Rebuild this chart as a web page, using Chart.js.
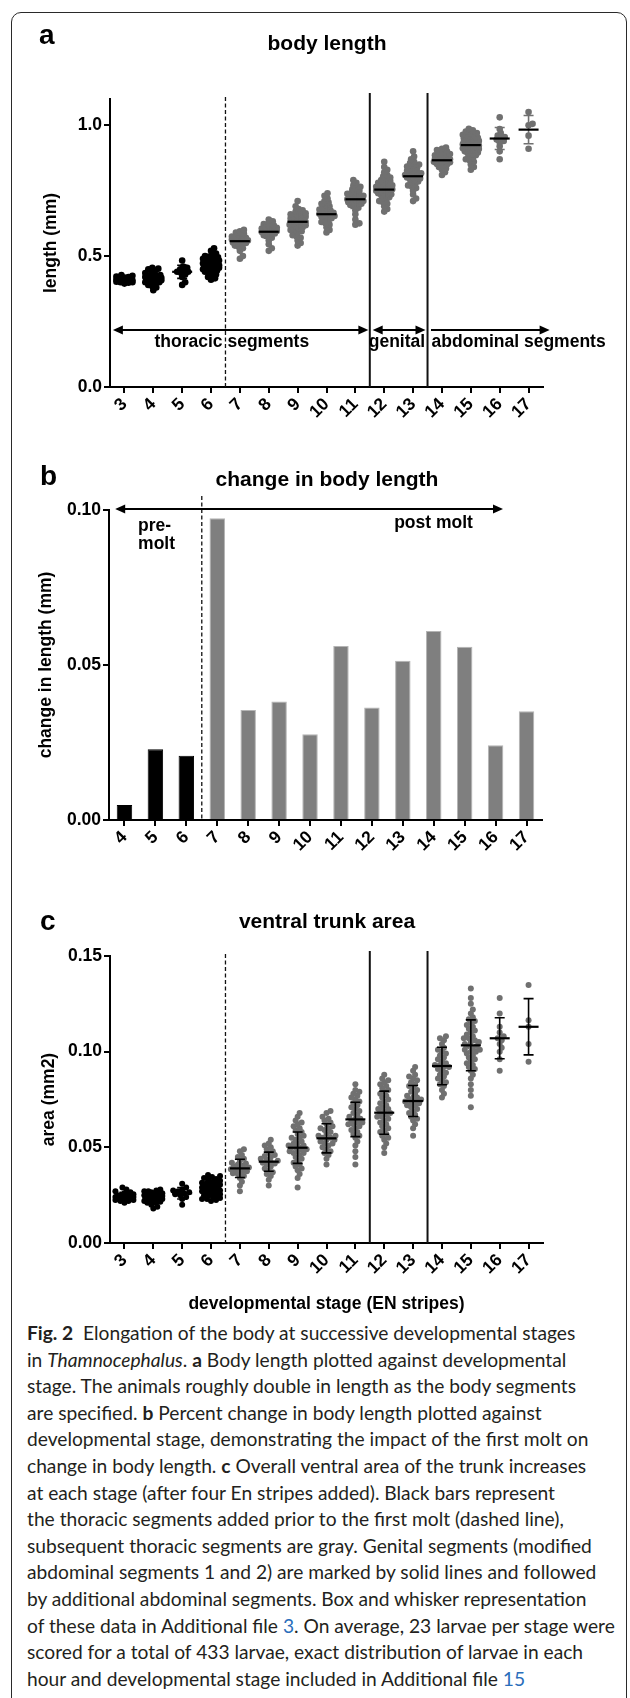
<!DOCTYPE html>
<html>
<head>
<meta charset="utf-8">
<script src="https://cdn.jsdelivr.net/npm/chart.js@4.4.1/dist/chart.umd.min.js"></script>
<style>
  body { margin: 0; background: #fff; width: 630px; height: 1698px; position: relative; overflow: hidden; }
  #card { position: absolute; left: 11px; top: 12px; width: 614px; height: 1760px; border: 1.5px solid #2a2a2a; border-radius: 10px; }
  canvas { position: absolute; left: 0; }
  #caption { position: absolute; left: 27px; top: 1320px; font-family: Lato, "Open Sans", sans-serif; font-size: 19.2px;
             line-height: 26.6px; color: #231f20; white-space: nowrap; }
  #caption a { color: #2a6ebb; text-decoration: none; }
</style>
</head>
<body>
<div id="card"></div>
<canvas id="panelA" width="630" height="430" style="top:0px"></canvas>
<canvas id="panelB" width="630" height="440" style="top:430px"></canvas>
<canvas id="panelC" width="630" height="445" style="top:870px"></canvas>
<div id="caption">
<b>Fig. 2</b>&nbsp; Elongation of the body at successive developmental stages<br>
in <i>Thamnocephalus</i>. <b>a</b> Body length plotted against developmental<br>
stage. The animals roughly double in length as the body segments<br>
are specified. <b>b</b> Percent change in body length plotted against<br>
developmental stage, demonstrating the impact of the first molt on<br>
change in body length. <b>c</b> Overall ventral area of the trunk increases<br>
at each stage (after four En stripes added). Black bars represent<br>
the thoracic segments added prior to the first molt (dashed line),<br>
subsequent thoracic segments are gray. Genital segments (modified<br>
abdominal segments 1 and 2) are marked by solid lines and followed<br>
by additional abdominal segments. Box and whisker representation<br>
of these data in Additional file <a>3</a>. On average, 23 larvae per stage were<br>
scored for a total of 433 larvae, exact distribution of larvae in each<br>
hour and developmental stage included in Additional file <a>15</a>
</div>

<script>
// ---- data ----
const stages = [3, 4, 5, 6, 7, 8, 9, 10, 11, 12, 13, 14, 15, 16, 17];

// body length (mm), one list per stage
const lengthByStage = [
  [0.395,0.398,0.400,0.400,0.402,0.404,0.405,0.406,0.407,0.408,0.408,0.409,0.410,0.410,0.411,0.412,0.413,0.414,0.415,0.416,0.418,0.420,0.422,0.425,0.428],
  [0.370,0.380,0.385,0.390,0.395,0.398,0.400,0.400,0.402,0.405,0.407,0.408,0.410,0.410,0.412,0.414,0.415,0.417,0.420,0.420,0.423,0.425,0.428,0.430,0.435,0.440,0.445,0.450,0.452,0.455],
  [0.390,0.400,0.420,0.430,0.435,0.440,0.440,0.445,0.450,0.455,0.460,0.483],
  [0.410,0.415,0.420,0.425,0.430,0.435,0.440,0.440,0.445,0.450,0.450,0.452,0.455,0.458,0.460,0.460,0.462,0.465,0.465,0.468,0.470,0.470,0.472,0.475,0.478,0.480,0.480,0.483,0.485,0.488,0.490,0.490,0.493,0.495,0.498,0.500,0.505,0.510,0.520,0.530],
  [0.490,0.500,0.520,0.530,0.535,0.540,0.545,0.548,0.550,0.552,0.555,0.557,0.560,0.560,0.563,0.565,0.568,0.570,0.573,0.575,0.580,0.585,0.590,0.595,0.600],
  [0.520,0.530,0.545,0.560,0.570,0.575,0.580,0.583,0.586,0.590,0.592,0.594,0.596,0.598,0.600,0.602,0.605,0.608,0.610,0.614,0.618,0.622,0.627,0.633,0.640],
  [0.540,0.550,0.560,0.570,0.575,0.580,0.590,0.595,0.600,0.600,0.605,0.610,0.612,0.615,0.618,0.620,0.622,0.625,0.627,0.630,0.630,0.632,0.635,0.637,0.640,0.642,0.645,0.647,0.650,0.652,0.655,0.658,0.660,0.663,0.667,0.670,0.675,0.680,0.690,0.710],
  [0.590,0.600,0.610,0.620,0.625,0.630,0.635,0.640,0.645,0.648,0.650,0.653,0.656,0.660,0.662,0.665,0.668,0.670,0.674,0.678,0.682,0.686,0.690,0.695,0.700,0.705,0.710,0.720,0.730,0.740],
  [0.620,0.625,0.640,0.660,0.675,0.685,0.690,0.695,0.700,0.700,0.703,0.706,0.709,0.710,0.712,0.715,0.717,0.720,0.720,0.723,0.726,0.729,0.730,0.732,0.735,0.738,0.741,0.745,0.750,0.755,0.760,0.765,0.770,0.780,0.790],
  [0.670,0.680,0.690,0.700,0.705,0.710,0.715,0.720,0.725,0.730,0.733,0.736,0.740,0.740,0.742,0.745,0.748,0.750,0.752,0.755,0.757,0.760,0.762,0.765,0.768,0.770,0.773,0.776,0.780,0.783,0.787,0.790,0.795,0.800,0.805,0.810,0.820,0.830,0.840,0.860],
  [0.710,0.720,0.735,0.750,0.760,0.765,0.770,0.775,0.780,0.785,0.790,0.793,0.796,0.800,0.800,0.802,0.805,0.808,0.810,0.813,0.816,0.820,0.823,0.826,0.830,0.834,0.838,0.842,0.846,0.850,0.855,0.860,0.870,0.880,0.900],
  [0.810,0.820,0.830,0.835,0.840,0.845,0.850,0.852,0.855,0.858,0.860,0.862,0.864,0.866,0.868,0.870,0.872,0.875,0.877,0.880,0.882,0.885,0.888,0.890,0.893,0.896,0.900,0.905,0.910,0.915],
  [0.830,0.840,0.850,0.860,0.865,0.870,0.875,0.880,0.885,0.890,0.893,0.896,0.900,0.903,0.906,0.909,0.910,0.912,0.915,0.917,0.920,0.922,0.925,0.927,0.930,0.930,0.932,0.935,0.937,0.940,0.942,0.945,0.947,0.950,0.952,0.955,0.958,0.960,0.963,0.966,0.970,0.973,0.976,0.980,0.986],
  [0.870,0.900,0.920,0.935,0.940,0.945,0.950,0.955,0.960,0.970,0.985,1.030],
  [0.910,0.960,1.000,1.005,1.050]
];
const lengthMean = [0.408,0.411,0.440,0.472,0.557,0.593,0.631,0.660,0.717,0.754,0.805,0.866,0.924,0.949,0.983];
const lengthSd   = [0.008,0.020,0.025,0.025,0.025,0.025,0.035,0.035,0.035,0.040,0.040,0.025,0.035,0.042,0.054];
const lengthTicks = [0, 0.5, 1.0];

// change in body length (mm)
const changeStages = ['4','5','6','7','8','9','10','11','12','13','14','15','16','17'];
const changeInLength = [0.0048,0.0228,0.0207,0.0973,0.0355,0.0382,0.0277,0.0561,0.0363,0.0514,0.0610,0.0559,0.0241,0.0351];
const changeTicks = [0, 0.05, 0.10];

// ventral trunk area (mm2), one list per stage
const areaByStage = [
  [0.021,0.022,0.022,0.0225,0.023,0.023,0.0235,0.0235,0.024,0.024,0.024,0.0245,0.0245,0.025,0.025,0.0255,0.026,0.027,0.028,0.029,0.0235,0.024,0.0225,0.025,0.0265],
  [0.018,0.019,0.020,0.021,0.0215,0.022,0.022,0.0225,0.023,0.023,0.0235,0.024,0.024,0.0245,0.0245,0.025,0.025,0.0255,0.026,0.026,0.0265,0.027,0.027,0.0275,0.028,0.0235,0.0225,0.0245,0.026,0.021],
  [0.020,0.023,0.024,0.025,0.0255,0.026,0.0265,0.027,0.0275,0.028,0.029,0.031],
  [0.022,0.0225,0.023,0.023,0.0235,0.024,0.0245,0.025,0.025,0.0255,0.026,0.026,0.0265,0.027,0.027,0.0275,0.028,0.028,0.0285,0.029,0.029,0.0295,0.030,0.030,0.0305,0.031,0.031,0.0315,0.032,0.0325,0.033,0.0335,0.034,0.0345,0.035,0.0355,0.028,0.030,0.031,0.029],
  [0.027,0.030,0.032,0.034,0.035,0.036,0.0365,0.037,0.0375,0.038,0.0385,0.039,0.039,0.0395,0.040,0.0405,0.041,0.0415,0.042,0.043,0.044,0.045,0.046,0.048,0.049],
  [0.030,0.033,0.035,0.036,0.037,0.038,0.039,0.040,0.041,0.0415,0.042,0.0425,0.043,0.0435,0.044,0.045,0.0455,0.046,0.047,0.048,0.049,0.050,0.051,0.052,0.054],
  [0.029,0.034,0.036,0.038,0.039,0.040,0.041,0.042,0.043,0.044,0.045,0.046,0.047,0.047,0.048,0.048,0.049,0.049,0.050,0.050,0.050,0.051,0.051,0.052,0.052,0.053,0.054,0.055,0.055,0.056,0.057,0.058,0.059,0.060,0.061,0.062,0.063,0.064,0.066,0.068],
  [0.041,0.044,0.046,0.047,0.048,0.049,0.050,0.051,0.052,0.052,0.053,0.054,0.054,0.055,0.055,0.056,0.056,0.057,0.058,0.059,0.060,0.060,0.061,0.062,0.063,0.064,0.065,0.066,0.068,0.069],
  [0.041,0.045,0.048,0.051,0.053,0.055,0.056,0.057,0.058,0.059,0.060,0.061,0.062,0.062,0.063,0.063,0.064,0.065,0.065,0.066,0.067,0.068,0.069,0.070,0.071,0.072,0.073,0.074,0.075,0.076,0.077,0.078,0.079,0.080,0.083],
  [0.047,0.050,0.052,0.054,0.055,0.056,0.057,0.058,0.059,0.060,0.061,0.062,0.063,0.064,0.065,0.066,0.066,0.067,0.068,0.068,0.069,0.070,0.070,0.071,0.072,0.073,0.074,0.075,0.076,0.077,0.078,0.079,0.080,0.081,0.082,0.083,0.084,0.085,0.086,0.088],
  [0.056,0.060,0.062,0.064,0.065,0.066,0.067,0.068,0.069,0.070,0.071,0.072,0.072,0.073,0.073,0.074,0.074,0.075,0.075,0.076,0.076,0.077,0.078,0.079,0.080,0.081,0.082,0.083,0.084,0.085,0.086,0.087,0.088,0.090,0.092],
  [0.076,0.078,0.080,0.082,0.083,0.084,0.085,0.086,0.087,0.088,0.089,0.090,0.091,0.092,0.092,0.093,0.093,0.094,0.095,0.096,0.097,0.098,0.099,0.100,0.101,0.102,0.104,0.106,0.107,0.108],
  [0.071,0.077,0.080,0.083,0.086,0.088,0.090,0.091,0.092,0.093,0.094,0.095,0.096,0.097,0.098,0.099,0.100,0.100,0.101,0.101,0.102,0.103,0.103,0.104,0.105,0.105,0.106,0.107,0.107,0.108,0.109,0.110,0.111,0.112,0.113,0.114,0.115,0.116,0.117,0.118,0.120,0.122,0.125,0.128,0.133],
  [0.090,0.096,0.100,0.102,0.104,0.106,0.107,0.108,0.110,0.113,0.120,0.128],
  [0.0947,0.104,0.113,0.1164,0.1348]
];
const areaMean = [0.0245,0.024,0.026,0.029,0.039,0.0425,0.0498,0.0547,0.0646,0.0681,0.0742,0.0925,0.1033,0.107,0.113];
const areaSd   = [0.002,0.0025,0.003,0.0035,0.0048,0.005,0.0082,0.0076,0.009,0.0113,0.0081,0.0098,0.0133,0.0107,0.0147];
const areaTicks = [0, 0.05, 0.10, 0.15];

// ---- styles ----
const GRAY = '#707070';
const FONT = '"Liberation Sans", Arial, sans-serif';
Chart.defaults.font.family = FONT;
Chart.defaults.font.weight = 'bold';
Chart.defaults.font.size = 17.5;
Chart.defaults.color = '#000';
Chart.defaults.animation = false;
Chart.defaults.plugins.legend.display = false;
Chart.defaults.plugins.tooltip.enabled = false;

const axisGrid = { drawOnChartArea: false, color: '#000', lineWidth: 2, tickLength: 6 };
const axisBorder = { color: '#000', width: 2 };

function arrowHead(ctx, x, y, dir) {
  ctx.beginPath();
  ctx.moveTo(x, y);
  ctx.lineTo(x + dir * 10, y - 4.5);
  ctx.lineTo(x + dir * 10, y + 4.5);
  ctx.closePath();
  ctx.fill();
}

function arrow(ctx, x1, x2, y, left, right) {
  ctx.lineWidth = 2;
  ctx.beginPath();
  ctx.moveTo(x1 + (left ? 8 : 0), y);
  ctx.lineTo(x2 - (right ? 8 : 0), y);
  ctx.stroke();
  if (left) arrowHead(ctx, x1, y, 1);
  if (right) arrowHead(ctx, x2, y, -1);
}

function vline(ctx, x, y1, y2, dashed) {
  ctx.save();
  ctx.lineWidth = dashed ? 1.3 : 2;
  ctx.setLineDash(dashed ? [4, 2.5] : []);
  ctx.beginPath();
  ctx.moveTo(x, y1);
  ctx.lineTo(x, y2);
  ctx.stroke();
  ctx.restore();
}

function heading(ctx, letter, lx, ly, title, ty) {
  ctx.fillStyle = '#000';
  ctx.textBaseline = 'alphabetic';
  ctx.textAlign = 'left';
  ctx.font = 'bold 28px ' + FONT;
  ctx.fillText(letter, lx, ly);
  ctx.textAlign = 'center';
  ctx.font = 'bold 21px ' + FONT;
  ctx.fillText(title, 327, ty);
}

// mean line + SD whiskers for the dot plots
function meanSd(chart, means, sds, sdColor) {
  const ctx = chart.ctx, x = chart.scales.x, y = chart.scales.y;
  means.forEach(function (m, i) {
    const px = x.getPixelForValue(stages[i]);
    const top = y.getPixelForValue(m + sds[i]);
    const bot = y.getPixelForValue(m - sds[i]);
    ctx.strokeStyle = sdColor(i);
    ctx.lineWidth = 1.6;
    ctx.beginPath();
    ctx.moveTo(px, top); ctx.lineTo(px, bot);
    ctx.moveTo(px - 5, top); ctx.lineTo(px + 5, top);
    ctx.moveTo(px - 5, bot); ctx.lineTo(px + 5, bot);
    ctx.stroke();
    const py = y.getPixelForValue(m);
    ctx.strokeStyle = '#000';
    ctx.lineWidth = 2.2;
    ctx.beginPath();
    ctx.moveTo(px - 10, py); ctx.lineTo(px + 10, py);
    ctx.stroke();
  });
}

// spreads the dots of each stage sideways so they do not pile up (beeswarm),
// kept inside +-maxDx pixels like the original dot plot
function swarm(chart, groups, gap, maxDx) {
  const xs = chart.scales.x, ys = chart.scales.y;
  const unit = xs.getPixelForValue(1) - xs.getPixelForValue(0);
  const pts = [];
  groups.forEach(function (vals, gi) {
    const placed = [];
    vals.slice().sort(function (p, q) { return p - q; }).forEach(function (v) {
      const py = ys.getPixelForValue(v);
      let best = 0, bestD = -1;
      for (let k = 0; k <= 2 * maxDx; k++) {
        const dx = (k % 2 ? 1 : -1) * Math.ceil(k / 2);
        let d = Infinity;
        placed.forEach(function (p) { d = Math.min(d, Math.hypot(p[0] - dx, p[1] - py)); });
        if (d >= gap) { best = dx; break; }
        if (d > bestD) { bestD = d; best = dx; }
      }
      placed.push([best, py]);
      pts.push({ x: stages[gi] + best / unit, y: v, s: stages[gi] });
    });
  });
  chart.data.datasets[0].data = pts;
  chart.update('none');
}

function dotChart(id, opts) {
  return new Chart(document.getElementById(id), {
    type: 'scatter',
    data: {
      datasets: [{
        data: [],
        pointRadius: opts.radius,
        pointHoverRadius: opts.radius,
        pointBorderWidth: 0,
        pointBackgroundColor: function (c) { return c.raw && c.raw.s <= 6 ? '#000' : GRAY; }
      }]
    },
    options: {
      responsive: false,
      layout: { autoPadding: false, padding: { top: opts.top, right: 87, left: 0, bottom: 0 } },
      scales: {
        x: {
          type: 'linear', min: 2.5, max: 17.5,
          afterBuildTicks: function (s) { s.ticks = stages.map(function (v) { return { value: v }; }); },
          afterFit: function (s) { s.height = opts.xHeight; },
          grid: axisGrid, border: axisBorder,
          ticks: { autoSkip: false, minRotation: 45, maxRotation: 45, padding: 1, callback: function (v) { return String(v); } },
          title: opts.xTitle
        },
        y: {
          min: 0, max: opts.yMax,
          afterBuildTicks: function (s) { s.ticks = opts.yTicks.map(function (v) { return { value: v }; }); },
          afterFit: function (s) { s.width = 110; },
          grid: axisGrid, border: axisBorder,
          ticks: { padding: 2, callback: function (v) { return v.toFixed(opts.digits); } },
          title: { display: true, text: opts.yTitle, padding: { top: opts.yTitlePad, bottom: 0 } }
        }
      }
    },
    plugins: [opts.decor]
  });
}

// ---- panel a ----
const chartA = dotChart('panelA', {
  top: 99, xHeight: 43, yMax: 1.1, yTicks: lengthTicks, digits: 1, radius: 3.3,
  yTitle: 'length (mm)', yTitlePad: 41, xTitle: { display: false },
  decor: {
    id: 'decorA',
    afterDatasetsDraw: function (chart) {
      const ctx = chart.ctx, x = chart.scales.x, y = chart.scales.y, ca = chart.chartArea;
      ctx.save();
      ctx.strokeStyle = '#111'; ctx.fillStyle = '#000';
      vline(ctx, x.getPixelForValue(6.5), ca.top - 2, ca.bottom, true);
      vline(ctx, x.getPixelForValue(11.5), ca.top - 6, ca.bottom, false);
      vline(ctx, x.getPixelForValue(13.5), ca.top - 6, ca.bottom, false);
      meanSd(chart, lengthMean, lengthSd, function (i) { return stages[i] <= 6 ? '#000' : GRAY; });
      ctx.strokeStyle = '#000';
      const ay = y.getPixelForValue(0.218);
      arrow(ctx, x.getPixelForValue(2.6), x.getPixelForValue(11.45), ay, true, true);
      arrow(ctx, x.getPixelForValue(11.6), x.getPixelForValue(13.43), ay, true, true);
      arrow(ctx, x.getPixelForValue(13.62), x.getPixelForValue(17.73), ay, false, true);
      ctx.font = 'bold 17.5px ' + FONT;
      ctx.textBaseline = 'alphabetic';
      const ty = y.getPixelForValue(0.153);
      ctx.textAlign = 'center';
      ctx.fillText('thoracic segments', x.getPixelForValue(6.72), ty);
      ctx.fillText('genital', x.getPixelForValue(12.44), ty);
      ctx.textAlign = 'left';
      ctx.fillText('abdominal segments', x.getPixelForValue(13.64), ty);
      heading(ctx, 'a', 39, 44, 'body length', 50);
      ctx.restore();
    }
  }
});
swarm(chartA, lengthByStage, 3.4, 8);

// ---- panel b ----
const chartB = new Chart(document.getElementById('panelB'), {
  type: 'bar',
  data: {
    labels: changeStages,
    datasets: [{
      data: changeInLength,
      backgroundColor: function (c) { return c.dataIndex < 3 ? '#000' : '#7f7f7f'; },
      borderColor: function (c) { return c.dataIndex < 3 ? '#000' : '#b4b4b4'; },
      borderWidth: 1,
      barPercentage: 0.5,
      categoryPercentage: 1
    }]
  },
  options: {
    responsive: false,
    layout: { autoPadding: false, padding: { top: 80, right: 88, left: 0, bottom: 0 } },
    scales: {
      x: {
        afterFit: function (s) { s.height = 50; },
        grid: Object.assign({ offset: false }, axisGrid), border: axisBorder,
        ticks: { autoSkip: false, minRotation: 45, maxRotation: 45, padding: 1 }
      },
      y: {
        min: 0, max: 0.1,
        afterBuildTicks: function (s) { s.ticks = changeTicks.map(function (v) { return { value: v }; }); },
        afterFit: function (s) { s.width = 109; },
        grid: axisGrid, border: axisBorder,
        ticks: { padding: 2, callback: function (v) { return v.toFixed(2); } },
        title: { display: true, text: 'change in length (mm)', padding: { top: 36, bottom: 0 } }
      }
    }
  },
  plugins: [{
    id: 'decorB',
    afterDatasetsDraw: function (chart) {
      const ctx = chart.ctx, x = chart.scales.x, y = chart.scales.y, ca = chart.chartArea;
      ctx.save();
      ctx.strokeStyle = '#111'; ctx.fillStyle = '#000';
      vline(ctx, x.getPixelForValue(2.5), ca.top - 14, ca.bottom, true);
      ctx.strokeStyle = '#000';
      arrow(ctx, x.getPixelForValue(-0.3), x.getPixelForValue(12.24), y.getPixelForValue(0.1) - 1, true, true);
      ctx.font = 'bold 17.5px ' + FONT;
      ctx.textAlign = 'left';
      ctx.textBaseline = 'alphabetic';
      ctx.fillText('pre-', x.getPixelForValue(0.44), y.getPixelForValue(0.0932));
      ctx.fillText('molt', x.getPixelForValue(0.44), y.getPixelForValue(0.0874));
      ctx.fillText('post molt', x.getPixelForValue(8.72), y.getPixelForValue(0.0942));
      heading(ctx, 'b', 40, 55, 'change in body length', 56);
      ctx.restore();
    }
  }]
});

// ---- panel c ----
const chartC = dotChart('panelC', {
  top: 86, xHeight: 72, yMax: 0.15, yTicks: areaTicks, digits: 2, radius: 3,
  yTitle: 'area (mm2)', yTitlePad: 39,
  xTitle: { display: true, text: 'developmental stage (EN stripes)', padding: { top: 0, bottom: 0.5 } },
  decor: {
    id: 'decorC',
    afterDatasetsDraw: function (chart) {
      const ctx = chart.ctx, x = chart.scales.x, ca = chart.chartArea;
      ctx.save();
      ctx.strokeStyle = '#111'; ctx.fillStyle = '#000';
      vline(ctx, x.getPixelForValue(6.5), ca.top - 2, ca.bottom, true);
      vline(ctx, x.getPixelForValue(11.5), ca.top - 5, ca.bottom, false);
      vline(ctx, x.getPixelForValue(13.5), ca.top - 5, ca.bottom, false);
      meanSd(chart, areaMean, areaSd, function () { return '#000'; });
      heading(ctx, 'c', 40, 60, 'ventral trunk area', 58);
      ctx.restore();
    }
  }
});
swarm(chartC, areaByStage, 4.2, 9);
</script>
</body>
</html>
